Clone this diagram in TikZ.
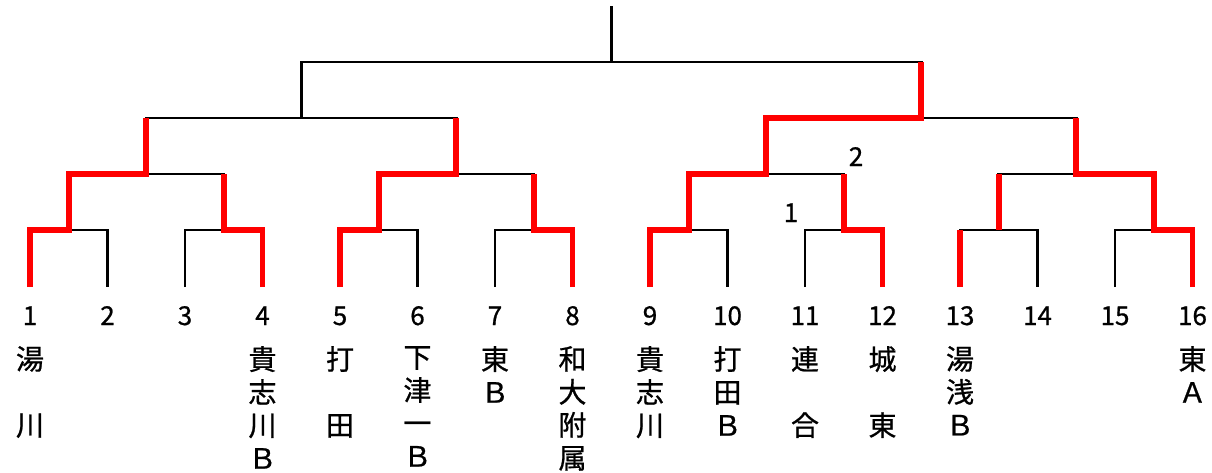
\documentclass[tikz,border=0pt]{standalone}
\usepackage{fontspec}
\setmainfont[FakeBold=0.8,AutoFakeBold=0.8]{Noto Sans CJK JP}
\usetikzlibrary{calc}

\tikzset{
  lose/.style={draw=black,line width=2.7pt},
  win/.style={draw=red,line width=5.8pt},
  seed/.style={inner sep=0pt,anchor=base,font=\bfseries\fontsize{26}{26}\selectfont},
  team/.style={inner sep=0pt,anchor=north,align=center,font=\bfseries\fontsize{28}{33}\selectfont},
}

\begin{document}
\begin{tikzpicture}[x=1pt,y=-1pt]
\useasboundingbox (0,0) rectangle (1212,472);

% leaves and match points
\foreach \i in {1,...,16}
  \coordinate (L\i) at ({30+(\i-1)*77.5},287);
\foreach \k in {1,...,8}
  \coordinate (A\k) at ({68.75+(\k-1)*155},230);
\foreach \k in {1,...,4}
  \coordinate (B\k) at ({146.25+(\k-1)*310},174);
\coordinate (C1) at (301.25,118);
\coordinate (C2) at (921.25,118);
\coordinate (D) at (611.25,62);
\coordinate (T) at (611.25,6);

% bracket
\foreach \k in {1,...,8}{
  \pgfmathtruncatemacro\a{2*\k-1}
  \pgfmathtruncatemacro\b{2*\k}
  \path [lose] (L\a) |- (A\k) -| (L\b);
}
\foreach \k in {1,...,4}{
  \pgfmathtruncatemacro\a{2*\k-1}
  \pgfmathtruncatemacro\b{2*\k}
  \path [lose] (A\a) |- (B\k) -| (A\b);
}
\path [lose] (B1) |- (C1) -| (B2);
\path [lose] (B3) |- (C2) -| (B4);
\path [lose] (C1) |- (D) -| (C2);
\path [lose] (D) -- (T);

% results
\path [win] (L1) |- (A1) |- (B1) -- (B1 |- C1);
\path [win] (L4) |- (A2) -- (A2 |- B1);
\path [win] (L5) |- (A3) |- (B2) -- (B2 |- C1);
\path [win] (L8) |- (A4) -- (A4 |- B2);
\path [win] (L9) |- (A5) |- (B3) |- (C2) -- (C2 |- D);
\path [win] (L12) |- (A6) -- (A6 |- B3);
\path [win] (L13) -- (L13 |- A7);
\path [win] (A7) -- (A7 |- B4);
\path [win] (L16) |- (A8) |- (B4) -- (B4 |- C2);

\node[seed] (g1) at (791,222) {1};
\node[seed] (g2) at (856,166) {2};

% seeds and teams
\foreach \i in {1,...,16}
  \node[seed] (n\i) at ($(L\i)+(0,38)$) {\i};

\node[team] (t1) at ($(L1)+(0,59)$) {湯\\\mbox{}\\川};
\node[team] (t4) at ($(L4)+(0,59)$) {貴\\志\\川\\Ｂ};
\node[team] (t5) at ($(L5)+(0,59)$) {打\\\mbox{}\\田};
\node[team] (t6) at ($(L6)+(0,59)$) {下\\津\\一\\Ｂ};
\node[team] (t7) at ($(L7)+(0,59)$) {東\\Ｂ};
\node[team] (t8) at ($(L8)+(0,59)$) {和\\大\\附\\属};
\node[team] (t9) at ($(L9)+(0,59)$) {貴\\志\\川};
\node[team] (t10) at ($(L10)+(0,59)$) {打\\田\\Ｂ};
\node[team] (t11) at ($(L11)+(0,59)$) {連\\\mbox{}\\合};
\node[team] (t12) at ($(L12)+(0,59)$) {城\\\mbox{}\\東};
\node[team] (t13) at ($(L13)+(0,59)$) {湯\\浅\\Ｂ};
\node[team] (t16) at ($(L16)+(0,59)$) {東\\Ａ};
\end{tikzpicture}
\end{document}
